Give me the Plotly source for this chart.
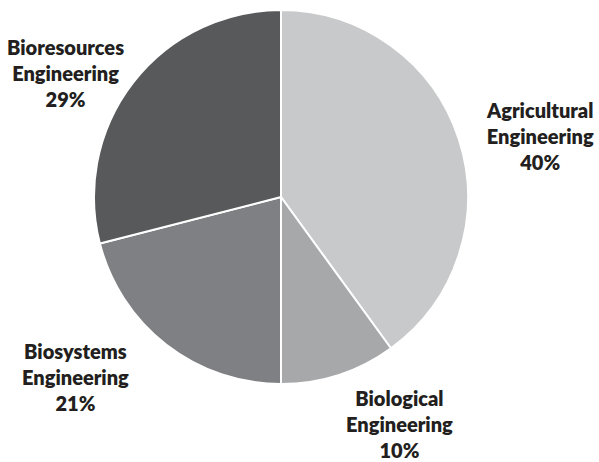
import plotly.graph_objects as go

# Share of programme names
categories = ["Agricultural Engineering", "Biological Engineering",
              "Biosystems Engineering", "Bioresources Engineering"]
shares = [40, 10, 21, 29]
colors = ["#c8c9ca", "#a7a8aa", "#7f8083", "#58595b"]

# Label anchor points (paper coords) for each slice label
label_x = [540 / 599, 399 / 599, 75 / 599, 65 / 599]
label_y = [1 - 136 / 462, 1 - 424 / 462, 1 - 377 / 462, 1 - 73 / 462]

W, H = 599, 462

fig = go.Figure(go.Pie(
    labels=categories,
    values=shares,
    sort=False,
    direction="clockwise",
    rotation=0,
    marker=dict(colors=colors, line=dict(color="white", width=2)),
    textinfo="none",
    hoverinfo="label+percent",
    domain=dict(x=[94 / W, 468 / W], y=[1 - 384 / H, 1 - 10 / H]),
    showlegend=False,
))

total = sum(shares)
for name, v, x, y in zip(categories, shares, label_x, label_y):
    words = name.split(" ")
    text = "<br>".join(words + [f"{round(100 * v / total)}%"])
    fig.add_annotation(
        x=x, y=y, xref="paper", yref="paper",
        text=text, showarrow=False,
        xanchor="center", yanchor="middle", align="center",
        font=dict(family="Lato, Open Sans, sans-serif", size=20,
                  color="#231f20", weight=800),
    )

fig.update_layout(
    width=W, height=H,
    margin=dict(l=0, r=0, t=0, b=0),
    paper_bgcolor="white",
    plot_bgcolor="white",
)

fig.write_html("out.html")
